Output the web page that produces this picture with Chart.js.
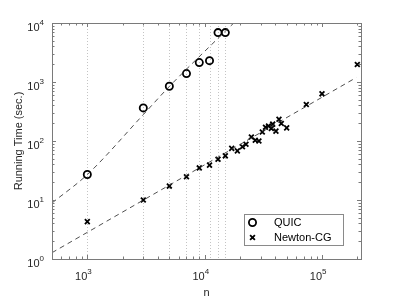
<!DOCTYPE html>
<html>
<head>
<meta charset="utf-8">
<script src="https://cdn.jsdelivr.net/npm/chart.js@4.4.0/dist/chart.umd.min.js"></script>
<style>
  html, body { margin: 0; padding: 0; background: #fff; }
  #wrap { width: 399px; height: 299px; }
</style>
</head>
<body>
<div id="wrap"><canvas id="chart" width="399" height="299"></canvas></div>
<script>
// ---- Data ----
const QUIC_N    = [1000, 3000, 5000, 7000, 9000, 11000, 13000, 15000];
const QUIC_TIME = [27, 364, 848, 1390, 2135, 2300, 6870, 6870];

const NEWTON_N    = [1000, 3000, 5000, 7000, 9000, 11000, 13000, 15000, 17000, 19000, 21000,
                     22500, 25000, 27000, 29000, 31000, 33000, 35000, 37000, 38000, 40500,
                     43000, 45000, 50000, 73500, 100000, 200000];
const NEWTON_TIME = [4.3, 10, 17.2, 24.7, 35, 39, 49, 56, 75, 68, 80,
                     88, 117, 103, 100, 142, 171, 180, 163, 193, 147,
                     234, 198, 167, 415, 630, 1975];

// dashed fit curves
const QUIC_FIT_N      = [500, 1000, 3000, 5000, 13000, 17700];
const QUIC_FIT_TIME   = [8.9, 27, 280, 840, 5500, 10000];
const NEWTON_FIT_N    = [500, 196000];
const NEWTON_FIT_TIME = [1.28, 1190];

// axes
const X_MIN = 500, X_MAX = 215000;
const Y_MIN = 1,   Y_MAX = 10000;
const X_MAJOR = [3, 4, 5];        // exponents of 10
const Y_MAJOR = [0, 1, 2, 3, 4];
const SERIES_NAMES = ["QUIC", "Newton-CG"];
const X_TITLE = "n";
const Y_TITLE = "Running Time (sec.)";

// ---- Helpers ----
const pts = (xs, ys) => xs.map((x, i) => ({ x, y: ys[i] }));
const FONT = '"Liberation Sans", Arial, sans-serif';
const AXIS_COLOR = '#7a7a7a';
const TEXT_COLOR = '#262626';

function minorValues(lo, hi) {
  const out = [];
  for (let e = Math.floor(Math.log10(lo)); e <= Math.ceil(Math.log10(hi)); e++) {
    for (let m = 1; m <= 9; m++) {
      const v = m * Math.pow(10, e);
      if (v >= lo && v <= hi) out.push({ v, major: m === 1 });
    }
  }
  return out;
}

function drawPow(ctx, x, y, exp, align) {
  // "10" + raised exponent; align 'right' -> whole label ends at x, 'tick' -> "10" ends at x
  ctx.font = '11px ' + FONT;
  const wBase = ctx.measureText('10').width;
  ctx.font = '8px ' + FONT;
  const wExp = ctx.measureText(String(exp)).width;
  let xBase = align === 'right' ? x - wBase - wExp : x - wBase;
  ctx.textAlign = 'left';
  ctx.textBaseline = 'alphabetic';
  ctx.font = '11px ' + FONT;
  ctx.fillText('10', xBase, y);
  ctx.font = '8px ' + FONT;
  ctx.fillText(String(exp), xBase + wBase, y - 6);
}

// ---- MATLAB-style axes, grid, labels, legend ----
const matlabAxes = {
  id: 'matlabAxes',
  beforeDatasetsDraw(chart) {
    const { ctx, chartArea: a, scales: { x } } = chart;
    ctx.save();
    ctx.strokeStyle = '#c4c4c4';
    ctx.lineWidth = 1;
    ctx.setLineDash([1, 2]);
    QUIC_N.forEach(n => {
      const px = Math.round(x.getPixelForValue(n)) + 0.5;
      ctx.beginPath();
      ctx.moveTo(px, a.top);
      ctx.lineTo(px, a.bottom);
      ctx.stroke();
    });
    ctx.restore();
  },
  afterDatasetsDraw(chart) {
    const { ctx, chartArea: a, scales: { x, y } } = chart;
    ctx.save();

    // ticks (inward, all four sides)
    ctx.strokeStyle = AXIS_COLOR;
    ctx.lineWidth = 1;
    minorValues(X_MIN, X_MAX).forEach(t => {
      const px = Math.round(x.getPixelForValue(t.v)) + 0.5;
      const len = t.major ? 4 : 2.5;
      ctx.beginPath();
      ctx.moveTo(px, a.bottom); ctx.lineTo(px, a.bottom - len);
      ctx.moveTo(px, a.top);    ctx.lineTo(px, a.top + len);
      ctx.stroke();
    });
    minorValues(Y_MIN, Y_MAX).forEach(t => {
      const py = Math.round(y.getPixelForValue(t.v)) + 0.5;
      const len = t.major ? 4 : 2.5;
      ctx.beginPath();
      ctx.moveTo(a.left, py);  ctx.lineTo(a.left + len, py);
      ctx.moveTo(a.right, py); ctx.lineTo(a.right - len, py);
      ctx.stroke();
    });

    // box
    ctx.strokeRect(Math.round(a.left) + 0.5, Math.round(a.top) + 0.5,
                   Math.round(a.right - a.left), Math.round(a.bottom - a.top));

    // tick labels
    ctx.fillStyle = TEXT_COLOR;
    X_MAJOR.forEach(e => {
      const px = x.getPixelForValue(Math.pow(10, e));
      drawPow(ctx, px, a.bottom + 21, e, 'tick');
    });
    Y_MAJOR.forEach(e => {
      const py = y.getPixelForValue(Math.pow(10, e));
      drawPow(ctx, a.left - 8, py + 8, e, 'right');
    });

    // axis titles
    ctx.font = '11px ' + FONT;
    ctx.textAlign = 'center';
    ctx.textBaseline = 'alphabetic';
    ctx.fillText(X_TITLE, (a.left + a.right) / 2, 296);
    ctx.save();
    ctx.translate(22, (a.top + a.bottom) / 2);
    ctx.rotate(-Math.PI / 2);
    ctx.fillText(Y_TITLE, 0, 0);
    ctx.restore();

    // legend box
    const lx = 244.5, ly = 214.5, lw = 99, lh = 31;
    ctx.fillStyle = '#fff';
    ctx.fillRect(lx, ly, lw, lh);
    ctx.strokeStyle = '#8a8a8a';
    ctx.strokeRect(lx, ly, lw, lh);

    ctx.strokeStyle = '#000';
    ctx.lineWidth = 1.8;
    ctx.beginPath();
    ctx.arc(252.5, 222.5, 3.6, 0, Math.PI * 2);
    ctx.stroke();
    ctx.lineWidth = 1.8;
    const cx = 252.5, cy = 237.5, r = 2.4;
    ctx.beginPath();
    ctx.moveTo(cx - r, cy - r); ctx.lineTo(cx + r, cy + r);
    ctx.moveTo(cx - r, cy + r); ctx.lineTo(cx + r, cy - r);
    ctx.stroke();

    ctx.fillStyle = '#000';
    ctx.font = '11px ' + FONT;
    ctx.textAlign = 'left';
    ctx.textBaseline = 'middle';
    ctx.fillText(SERIES_NAMES[0], 274, 222.5);
    ctx.fillText(SERIES_NAMES[1], 274, 237.5);

    ctx.restore();
  }
};

// ---- Chart ----
const ctx = document.getElementById('chart').getContext('2d');
new Chart(ctx, {
  type: 'scatter',
  data: {
    datasets: [
      {
        label: 'QUIC fit',
        data: pts(QUIC_FIT_N, QUIC_FIT_TIME),
        showLine: true,
        borderColor: '#3c3c3c',
        borderWidth: 0.9,
        borderDash: [5, 4],
        pointRadius: 0,
        cubicInterpolationMode: 'monotone'
      },
      {
        label: 'Newton-CG fit',
        data: pts(NEWTON_FIT_N, NEWTON_FIT_TIME),
        showLine: true,
        borderColor: '#3c3c3c',
        borderWidth: 0.9,
        borderDash: [5, 4],
        pointRadius: 0
      },
      {
        label: SERIES_NAMES[0],
        data: pts(QUIC_N, QUIC_TIME),
        pointStyle: 'circle',
        pointRadius: 3.6,
        borderColor: '#000',
        backgroundColor: 'rgba(0,0,0,0)',
        borderWidth: 1.8
      },
      {
        label: SERIES_NAMES[1],
        data: pts(NEWTON_N, NEWTON_TIME),
        pointStyle: 'crossRot',
        pointRadius: 3.4,
        borderColor: '#000',
        borderWidth: 1.8
      }
    ]
  },
  options: {
    responsive: false,
    animation: false,
    devicePixelRatio: 1,
    layout: { padding: { top: 23, right: 38, left: 0, bottom: 0 } },
    plugins: { legend: { display: false }, tooltip: { enabled: false } },
    scales: {
      x: {
        type: 'logarithmic', min: X_MIN, max: X_MAX,
        ticks: { display: false }, grid: { display: false }, border: { display: false },
        afterFit: s => { s.height = 40; }
      },
      y: {
        type: 'logarithmic', min: Y_MIN, max: Y_MAX,
        ticks: { display: false }, grid: { display: false }, border: { display: false },
        afterFit: s => { s.width = 52; }
      }
    }
  },
  plugins: [matlabAxes]
});
</script>
</body>
</html>
